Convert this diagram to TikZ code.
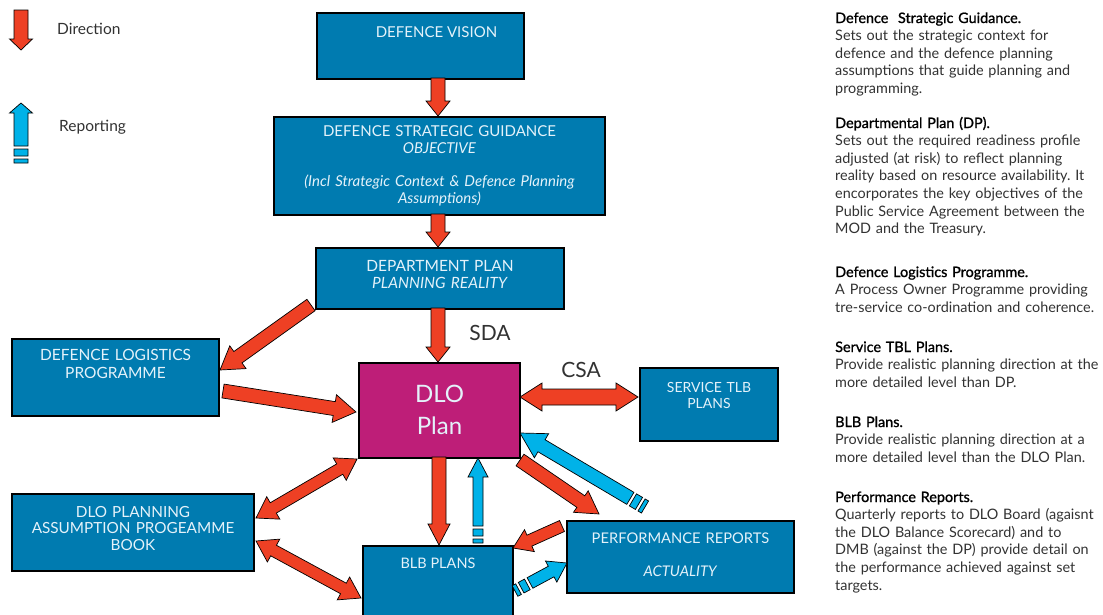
\documentclass[tikz,border=0pt]{standalone}
\usepackage{fontspec}
\setmainfont{Lato}
\newfontfamily\headfont[FakeBold=1.2]{Lato}
\usetikzlibrary{calc}
\definecolor{boxblue}{RGB}{0,123,176}
\definecolor{dlomag}{RGB}{190,30,120}
\definecolor{dirred}{RGB}{238,64,36}
\definecolor{repblue}{RGB}{0,178,232}
\definecolor{txtgray}{RGB}{50,50,50}
\definecolor{boxtxt}{RGB}{228,242,250}
\frenchspacing
\tikzset{
  arrowline/.style={draw=black,line width=0.7pt,line join=miter},
  box/.style={draw=black,line width=2pt,fill=boxblue,anchor=north west,inner sep=0pt},
  boxtext/.style={text=boxtxt,font=\fontsize{15}{17}\selectfont,align=center,anchor=base,inner sep=0pt},
  side/.style={text=txtgray,font=\fontsize{14.4}{17.6}\selectfont,align=left,anchor=base west,inner sep=0pt,text width=275pt},
  big/.style={text=txtgray,font=\fontsize{21}{24}\selectfont,inner sep=0pt},
  legend/.style={text=txtgray,font=\fontsize{15.5}{18}\selectfont,inner sep=0pt,anchor=west}
}
\newcommand\fatarrow[6]{%
  \path[arrowline,fill=#6] let \p1=(#1), \p2=(#2), \n1={atan2(\y2-\y1,\x2-\x1)}, \n2={veclen(\x2-\x1,\y2-\y1)} in
  [shift={(\p1)},rotate=\n1] (0,#3) -- ({\n2-#5},#3) -- ({\n2-#5},#4) -- (\n2,0) -- ({\n2-#5},-#4) -- ({\n2-#5},-#3) -- (0,-#3) -- cycle;}
\newcommand\dblarrow[6]{%
  \path[arrowline,fill=#6] let \p1=(#1), \p2=(#2), \n1={atan2(\y2-\y1,\x2-\x1)}, \n2={veclen(\x2-\x1,\y2-\y1)} in
  [shift={(\p1)},rotate=\n1] (0,0) -- (#5,#4) -- (#5,#3) -- ({\n2-#5},#3) -- ({\n2-#5},#4) -- (\n2,0) -- ({\n2-#5},-#4) -- ({\n2-#5},-#3) -- (#5,-#3) -- (#5,-#4) -- cycle;}
\newcommand\reparrow[5]{%
  \path[arrowline,fill=repblue] let \p1=(#1), \p2=(#2), \n1={atan2(\y2-\y1,\x2-\x1)}, \n2={veclen(\x2-\x1,\y2-\y1)} in
  [shift={(\p1)},rotate=\n1] (0,#3) -- (4,#3) -- (4,-#3) -- (0,-#3) -- cycle
  (7,#3) -- (14,#3) -- (14,-#3) -- (7,-#3) -- cycle
  (17,#3) -- ({\n2-#5},#3) -- ({\n2-#5},#4) -- (\n2,0) -- ({\n2-#5},-#4) -- ({\n2-#5},-#3) -- (17,-#3) -- cycle;}
\begin{document}
\begin{tikzpicture}[x=1pt,y=-1pt]
\useasboundingbox[fill=white] (0,0) rectangle (1103,614);

% boxes
\node[box,minimum width=207pt,minimum height=66pt] (dv) at (316,12) {};
\node[box,minimum width=331pt,minimum height=98pt] (dsg) at (273,116) {};
\node[box,minimum width=248pt,minimum height=61pt] (dp) at (315,247) {};
\node[box,minimum width=207pt,minimum height=77pt] (dlp) at (11,338) {};
\node[box,minimum width=242pt,minimum height=77pt] (pab) at (11,493) {};
\node[box,fill=dlomag,minimum width=161pt,minimum height=95pt] (dlo) at (358,362) {};
\node[box,minimum width=150pt,minimum height=75pt] (blb) at (362,545) {};
\node[box,minimum width=138pt,minimum height=73pt] (svc) at (639,367) {};
\node[box,minimum width=227pt,minimum height=72pt] (perf) at (566,520) {};

% box texts
\node[boxtext] (dvt) at ($(dv.north)+(16,25)$) {DEFENCE VISION};
\node[boxtext,text width=330pt] (dsgt) at ($(dsg.north)+(0,20)$) {DEFENCE STRATEGIC GUIDANCE\\\textit{OBJECTIVE}\\[16pt]\textit{(Incl Strategic Context \& Defence Planning}\\\textit{Assumptions)}};
\node[boxtext,text width=240pt,font=\fontsize{15.5}{17}\selectfont] (dpt) at ($(dp.north)+(0,24)$) {DEPARTMENT PLAN\\\textit{PLANNING REALITY}};
\node[boxtext,text width=200pt,font=\fontsize{15.5}{18}\selectfont] (dlpt) at ($(dlp.north)+(0,22)$) {DEFENCE LOGISTICS\\PROGRAMME};
\node[boxtext,text width=240pt,font=\fontsize{15.3}{16.5}\selectfont] (pabt) at ($(pab.north)+(0,24)$) {DLO PLANNING\\ASSUMPTION PROGEAMME\\BOOK};
\node[boxtext,text width=150pt,font=\fontsize{24}{32}\selectfont] (dlot) at ($(dlo.north)+(0,40)$) {DLO\\Plan};
\node[boxtext,text width=136pt,font=\fontsize{14}{16}\selectfont] (svct) at ($(svc.north)+(0,25)$) {SERVICE TLB\\PLANS};
\node[boxtext,text width=225pt,font=\fontsize{14.7}{33}\selectfont] (perft) at ($(perf.north)+(0,23)$) {PERFORMANCE REPORTS\\\textit{ACTUALITY}};
\node[boxtext,font=\fontsize{14.5}{17}\selectfont] (blbt) at ($(blb.north)+(0,23)$) {BLB PLANS};

% labels
\node[big] (sda) at (490,333) {SDA};
\node[big] (csa) at (581,370) {CSA};

% arrow end coordinates
\coordinate (a1s) at (438,78);  \coordinate (a1e) at (438,116);
\coordinate (a2s) at (438,214); \coordinate (a2e) at (438,247);
\coordinate (a3s) at (438,308); \coordinate (a3e) at (438,362);
\coordinate (a4s) at (311,305); \coordinate (a4e) at (220,370);
\coordinate (a5s) at (223,391); \coordinate (a5e) at (356,412);
\coordinate (a6s) at (357,459); \coordinate (a6e) at (256,518);
\coordinate (a7s) at (256,541); \coordinate (a7e) at (361,598);
\coordinate (a8s) at (439,457); \coordinate (a8e) at (439,545);
\coordinate (a9s) at (478,543); \coordinate (a9e) at (478,458);
\coordinate (a10s) at (520,460); \coordinate (a10e) at (599,514);
\coordinate (a11s) at (645,507); \coordinate (a11e) at (520,433);
\coordinate (a12s) at (562,526); \coordinate (a12e) at (513,548);
\coordinate (a13s) at (515,591); \coordinate (a13e) at (567,563);
\coordinate (a14s) at (520,397); \coordinate (a14e) at (638,397);

% direction arrows
\fatarrow{a1s}{a1e}{7}{12}{15}{dirred}
\fatarrow{a2s}{a2e}{7}{12}{15}{dirred}
\fatarrow{a3s}{a3e}{7}{12}{15}{dirred}
\fatarrow{a4s}{a4e}{7}{14}{22}{dirred}
\fatarrow{a5s}{a5e}{7}{14}{22}{dirred}
\dblarrow{a6s}{a6e}{6}{13}{20}{dirred}
\dblarrow{a7s}{a7e}{6}{13}{20}{dirred}
\fatarrow{a8s}{a8e}{7}{11}{21}{dirred}
\fatarrow{a10s}{a10e}{7}{13}{22}{dirred}
\fatarrow{a12s}{a12e}{6}{12}{18}{dirred}
\dblarrow{a14s}{a14e}{8}{14}{22}{dirred}

% reporting arrows
\reparrow{a9s}{a9e}{5}{10}{19}
\reparrow{a11s}{a11e}{7}{14}{25}
\reparrow{a13s}{a13e}{6}{12}{18}

% legend
\coordinate (l1s) at (21,10); \coordinate (l1e) at (21,50);
\coordinate (l2s) at (21,163); \coordinate (l2e) at (21,103);
\fatarrow{l1s}{l1e}{7}{11.5}{11}{dirred}
\reparrow{l2s}{l2e}{7}{11.5}{10}
\node[legend] (ldir) at (57,29) {Direction};
\node[legend] (lrep) at (59,127) {Reporting};

% side text
\node[side] (s1) at (835,23) {{\headfont\color{black}Defence\ \ Strategic Guidance.}\\Sets out the strategic context for\\defence and the defence planning\\assumptions that guide planning and\\programming.};
\node[side] (s2) at (835,128) {{\headfont\color{black}Departmental Plan (DP).}\\Sets out the required readiness profile\\adjusted (at risk) to reflect planning\\reality based on resource availability. It\\encorporates the key objectives of the\\Public Service Agreement between the\\MOD and the Treasury.};
\node[side] (s3) at (835,277) {{\headfont\color{black}Defence Logistics Programme.}\\A Process Owner Programme providing\\tre-service co-ordination and coherence.};
\node[side] (s4) at (835,352) {{\headfont\color{black}Service TBL Plans.}\\Provide realistic planning direction at the\\more detailed level than DP.};
\node[side] (s5) at (835,427) {{\headfont\color{black}BLB Plans.}\\Provide realistic planning direction at a\\more detailed level than the DLO Plan.};
\node[side] (s6) at (835,502) {{\headfont\color{black}Performance Reports.}\\Quarterly reports to DLO Board (agaisnt\\the DLO Balance Scorecard) and to\\DMB (against the DP) provide detail on\\the performance achieved against set\\targets.};
\end{tikzpicture}
\end{document}
